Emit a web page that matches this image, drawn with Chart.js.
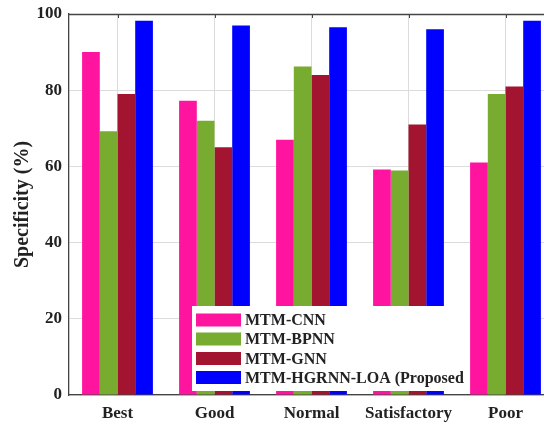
<!DOCTYPE html>
<html>
<head>
<meta charset="utf-8">
<script src="https://cdn.jsdelivr.net/npm/chart.js@4"></script>
<style>
  html, body { margin: 0; padding: 0; background: #fff; overflow: hidden; }
  #wrap { width: 564px; height: 426px; }
</style>
</head>
<body>
<div id="wrap"><canvas id="chartSpec"></canvas></div>
<script>
// categories and series
const categories = ['Best', 'Good', 'Normal', 'Satisfactory', 'Poor'];
const cnnValues = [90, 77.2, 67, 59.2, 61];
const bpnnValues = [69.2, 72, 86.2, 58.9, 79];
const gnnValues = [79, 65, 84, 71, 81];
const proposedValues = [98.2, 97, 96.5, 96, 98.2];
const yTicks = [0, 20, 40, 60, 80, 100];

const seriesNames = ['MTM-CNN', 'MTM-BPNN', 'MTM-GNN', 'MTM-HGRNN-LOA (Proposed'];
const seriesColors = ['#ff14a0', '#77ac30', '#a2142f', '#0000ff'];

const FONT = '"Liberation Serif", "Times New Roman", serif';

// white legend box in the lower part of the plot
const legendBox = {
    id: 'legendBox',
    afterDatasetsDraw(chart) {
        const ctx = chart.ctx;
        ctx.save();
        ctx.fillStyle = '#fff';
        ctx.fillRect(192, 306, 278, 85);
        const rows = [320, 339, 358.5, 377.5];
        chart.data.datasets.forEach((ds, i) => {
            ctx.fillStyle = ds.backgroundColor;
            ctx.fillRect(196, rows[i] - 6.5, 45, 13);
            ctx.fillStyle = '#222';
            ctx.font = 'bold 16px ' + FONT;
            ctx.textBaseline = 'middle';
            ctx.fillText(ds.label, 245, rows[i] + 1);
        });
        ctx.restore();
    }
};

// top frame line + small tick marks like the original
const frame = {
    id: 'frame',
    afterDraw(chart) {
        const { ctx, chartArea: a, scales } = chart;
        ctx.save();
        ctx.strokeStyle = '#444';
        ctx.lineWidth = 1.3;
        ctx.beginPath();
        ctx.moveTo(a.left, a.top + 0.5);
        ctx.lineTo(a.right, a.top + 0.5);
        ctx.stroke();
        ctx.lineWidth = 1;
        categories.forEach((c, i) => {
            const x = Math.round(scales.x.getPixelForValue(i)) + 0.5;
            ctx.beginPath();
            ctx.moveTo(x, a.top);
            ctx.lineTo(x, a.top + 4);
            ctx.stroke();
        });
        ctx.restore();
    }
};

const ctx = document.getElementById('chartSpec').getContext('2d');
new Chart(ctx, {
    type: 'bar',
    data: {
        labels: categories,
        datasets: [cnnValues, bpnnValues, gnnValues, proposedValues].map((vals, i) => ({
            label: seriesNames[i],
            data: vals,
            backgroundColor: seriesColors[i],
            borderWidth: 0,
            categoryPercentage: 0.73,
            barPercentage: 1
        }))
    },
    options: {
        responsive: true,
        maintainAspectRatio: false,
        animation: false,
        layout: { padding: { top: 0, right: 10, left: 0, bottom: 0 } },
        plugins: { legend: { display: false }, tooltip: { enabled: false } },
        scales: {
            x: {
                grid: { offset: false, color: '#dcdcdc', drawTicks: false },
                border: { color: '#444', width: 1.3 },
                ticks: { color: '#222', font: { family: FONT, size: 17, weight: 'bold' }, padding: 8 },
                afterFit: (s) => { s.height = 31; }
            },
            y: {
                min: 0,
                max: 100,
                afterBuildTicks: (s) => { s.ticks = yTicks.map(v => ({ value: v })); },
                grid: { color: '#dcdcdc', drawTicks: false },
                border: { color: '#444', width: 1.3 },
                ticks: { color: '#222', font: { family: FONT, size: 17, weight: 'bold' }, padding: 7 },
                title: {
                    display: true,
                    text: 'Specificity (%)',
                    color: '#222',
                    font: { family: FONT, size: 20, weight: 'bold' },
                    padding: { top: 11, bottom: 0 }
                },
                afterFit: (s) => { s.width = 69; s.paddingTop = 14; s.paddingBottom = 0; }
            }
        }
    },
    plugins: [legendBox, frame]
});
</script>
</body>
</html>
